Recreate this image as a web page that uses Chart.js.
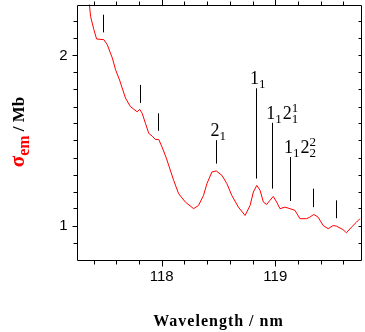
<!DOCTYPE html>
<html>
<head>
<meta charset="utf-8">
<script src="https://cdn.jsdelivr.net/npm/chart.js@4/dist/chart.umd.min.js"></script>
<style>
  html, body { margin: 0; padding: 0; background: #fff; }
  #wrap { width: 365px; height: 332px; }
</style>
</head>
<body>
<div id="wrap"><canvas id="chart" width="365" height="332"></canvas></div>
<script>
// emission cross section
const wavelength = [117.362, 117.374, 117.403, 117.427, 117.491, 117.521, 117.565, 117.594, 117.629,
  117.652, 117.681, 117.725, 117.784, 117.807, 117.828, 117.857, 117.886, 117.916, 117.945, 117.974,
  118.003, 118.041, 118.105, 118.149, 118.208, 118.281, 118.324, 118.368, 118.398, 118.442, 118.480,
  118.530, 118.574, 118.617, 118.675, 118.734, 118.778, 118.807, 118.837, 118.866, 118.895, 118.924,
  118.953, 118.982, 119.012, 119.041, 119.085, 119.129, 119.173, 119.217, 119.275, 119.304, 119.339,
  119.377, 119.421, 119.465, 119.509, 119.538, 119.596, 119.626, 119.670, 119.714, 119.747];
const sigma = [2.31, 2.229, 2.152, 2.097, 2.093, 2.063, 1.986, 1.916, 1.856,
  1.809, 1.750, 1.699, 1.669, 1.683, 1.660, 1.601, 1.542, 1.526, 1.506, 1.506,
  1.462, 1.396, 1.266, 1.187, 1.138, 1.099, 1.118, 1.177, 1.246, 1.315, 1.321,
  1.295, 1.246, 1.177, 1.108, 1.059, 1.118, 1.197, 1.236, 1.207, 1.138, 1.124,
  1.148, 1.171, 1.138, 1.099, 1.108, 1.099, 1.089, 1.040, 1.040, 1.049, 1.065,
  1.049, 1.000, 0.981, 1.000, 0.996, 0.976, 0.957, 0.990, 1.019, 1.041];

// axis ticks
const xTicks = [117.4, 117.6, 117.8, 118, 118.2, 118.4, 118.6, 118.8, 119, 119.2, 119.4, 119.6];
const xLabels = [118, 119];
const yTicks = [0.9, 1.0, 1.1, 1.2, 1.3, 1.4, 1.5, 1.6, 1.7, 1.8, 1.9, 2.0, 2.1, 2.2];
const yLabels = [1, 2];

// assignment markers: position, line ends, label as [main, sub, sup] groups
const markX = [117.482, 117.807, 117.965, 118.482, 118.831, 118.974, 119.129, 119.333, 119.532];
const markTop = [2.240, 1.827, 1.660, 1.502, 1.807, 1.604, 1.403, 1.217, 1.148];
const markBottom = [2.136, 1.721, 1.557, 1.364, 1.276, 1.217, 1.144, 1.108, 1.043];
const markLabel = [null, null, null,
  [['2', '1', '']],
  [['1', '1', '']],
  [['1', '1', ''], ['2', '1', '1']],
  [['1', '1', ''], ['2', '2', '2']],
  null, null];

const isLabel = (list, v) => list.some((l) => Math.abs(l - v) < 1e-6);

// draws frame, outward ticks, markers and the axis titles
const decorations = {
  id: 'decorations',
  afterDatasetsDraw(chart) {
    const ctx = chart.ctx;
    const a = chart.chartArea;
    const xs = chart.scales.x;
    const ys = chart.scales.y;
    const L = Math.round(a.left) + 0.5, R = Math.round(a.right) + 0.5;
    const T = Math.round(a.top) + 0.5, B = Math.round(a.bottom) + 0.5;

    ctx.save();
    ctx.strokeStyle = '#000';
    ctx.lineWidth = 1;
    ctx.beginPath();
    ctx.rect(L, T, R - L, B - T);

    xTicks.forEach((v) => {
      const px = Math.round(xs.getPixelForValue(v)) + 0.5;
      const len = isLabel(xLabels, v) ? 6 : 4;
      ctx.moveTo(px, B); ctx.lineTo(px, B + len);
      ctx.moveTo(px, T); ctx.lineTo(px, T - len);
    });
    yTicks.forEach((v) => {
      const py = Math.round(ys.getPixelForValue(v)) + 0.5;
      const len = isLabel(yLabels, v) ? 5 : 4;
      ctx.moveTo(L, py); ctx.lineTo(L - len, py);
      ctx.moveTo(R, py); ctx.lineTo(R - 3, py);
    });
    ctx.stroke();

    // marker lines
    ctx.beginPath();
    markX.forEach((v, i) => {
      const px = Math.round(xs.getPixelForValue(v)) + 0.5;
      ctx.moveTo(px, ys.getPixelForValue(markTop[i]));
      ctx.lineTo(px, ys.getPixelForValue(markBottom[i]));
    });
    ctx.stroke();

    // marker labels
    ctx.fillStyle = '#000';
    ctx.textBaseline = 'alphabetic';
    ctx.textAlign = 'left';
    markLabel.forEach((groups, i) => {
      if (!groups) return;
      let x = xs.getPixelForValue(markX[i]) - 6;
      const y = ys.getPixelForValue(markTop[i]) - 4;
      groups.forEach(([main, sub, sup]) => {
        ctx.font = '18px "Liberation Serif"';
        ctx.fillText(main, x, y);
        x += ctx.measureText(main).width;
        ctx.font = '13px "Liberation Serif"';
        let w = 0;
        if (sub) { ctx.fillText(sub, x, y + 4); w = ctx.measureText(sub).width; }
        if (sup) { ctx.fillText(sup, x, y - 7); w = Math.max(w, ctx.measureText(sup).width); }
        x += w + 1;
      });
    });

    // x title
    ctx.font = 'bold 16px "Liberation Serif"';
    ctx.letterSpacing = '1px';
    ctx.textAlign = 'center';
    ctx.fillText('Wavelength / nm', (a.left + a.right) / 2, 326);
    ctx.letterSpacing = '0px';

    // y title, rotated, sigma_em in red
    const parts = [
      { t: '\u03C3', font: 'bold 21px "Liberation Serif"', color: '#ff0000', dy: 0 },
      { t: 'em', font: 'bold 16px "Liberation Serif"', color: '#ff0000', dy: 5 },
      { t: ' / Mb', font: 'bold 17px "Liberation Serif"', color: '#000', dy: 0 },
    ];
    let total = 0;
    parts.forEach((p) => { ctx.font = p.font; p.w = ctx.measureText(p.t).width; total += p.w; });
    ctx.translate(24, (a.top + a.bottom) / 2 + total / 2);
    ctx.rotate(-Math.PI / 2);
    ctx.textAlign = 'left';
    let x = 0;
    parts.forEach((p) => {
      ctx.font = p.font;
      ctx.fillStyle = p.color;
      ctx.fillText(p.t, x, p.dy);
      x += p.w;
    });
    ctx.restore();
  },
};

new Chart(document.getElementById('chart'), {
  type: 'line',
  data: {
    datasets: [{
      data: wavelength.map((w, i) => ({ x: w, y: sigma[i] })),
      borderColor: '#ff0000',
      borderWidth: 1,
      pointRadius: 0,
      tension: 0,
      fill: false,
    }],
  },
  options: {
    responsive: false,
    animation: false,
    events: [],
    layout: { padding: { top: 4.5, right: 4.5, left: 0, bottom: 0 } },
    plugins: { legend: { display: false }, tooltip: { enabled: false } },
    scales: {
      x: {
        type: 'linear',
        min: 117.25,
        max: 119.75,
        grid: { display: false, drawTicks: false },
        border: { display: false },
        afterBuildTicks: (scale) => { scale.ticks = xTicks.map((v) => ({ value: v })); },
        afterFit: (scale) => {
          scale.height = 72.5;
          scale.paddingLeft = 0;
          scale.paddingRight = 0;
        },
        ticks: {
          autoSkip: false,
          maxRotation: 0,
          padding: 8,
          color: '#000',
          font: { family: '"Liberation Sans"', size: 15 },
          callback: (v) => (isLabel(xLabels, v) ? String(Math.round(v)) : ''),
        },
      },
      y: {
        type: 'linear',
        min: 0.8,
        max: 2.3,
        grid: { display: false, drawTicks: false },
        border: { display: false },
        afterBuildTicks: (scale) => { scale.ticks = yTicks.map((v) => ({ value: v })); },
        afterFit: (scale) => {
          scale.width = 76.5;
          scale.paddingTop = 0;
          scale.paddingBottom = 0;
        },
        ticks: {
          autoSkip: false,
          padding: 9,
          color: '#000',
          font: { family: '"Liberation Sans"', size: 15 },
          callback: (v) => (isLabel(yLabels, v) ? String(Math.round(v)) : ''),
        },
      },
    },
  },
  plugins: [decorations],
});
</script>
</body>
</html>
